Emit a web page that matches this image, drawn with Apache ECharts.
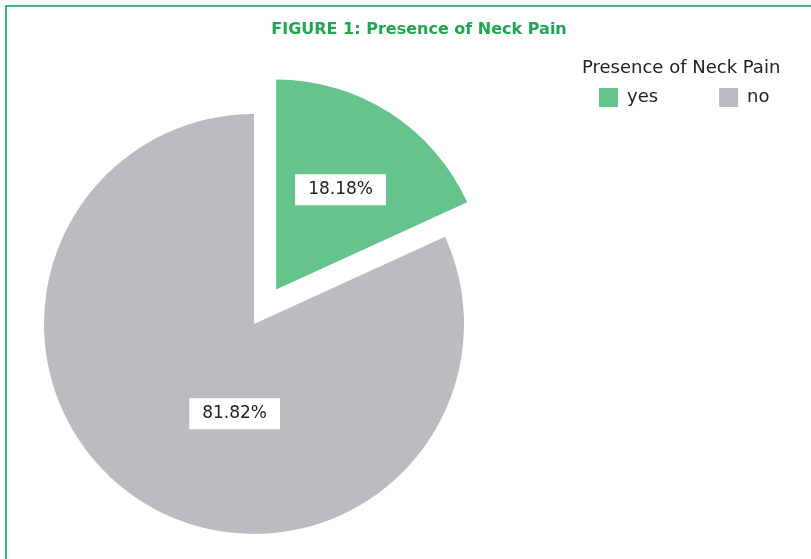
<!DOCTYPE html>
<html>
<head>
<meta charset="utf-8">
<script src="https://cdn.jsdelivr.net/npm/echarts@6/dist/echarts.min.js"></script>
<style>
html,body{margin:0;padding:0;background:#fff;}
#chart{width:811px;height:559px;}
</style>
</head>
<body>
<div id="chart"></div>
<script>
const categories = ['yes', 'no'];
const values = [18.18, 81.82];
const sliceColors = ['#64c48c', '#bbbcc0'];

const chart = echarts.init(document.getElementById('chart'), null, {renderer: 'canvas'});
const labelShift = [[6, -9], [39, -1]];

chart.setOption({
  animation: false,
  title: [
    {
      text: 'FIGURE 1: Presence of Neck Pain',
      left: 414, top: 17, textAlign: 'center',
      textStyle: {color: '#1ea650', fontSize: 16, fontWeight: 'bold', fontFamily: 'DejaVu Sans'}
    },
    {
      text: 'Presence of Neck Pain',
      left: 577, top: 54,
      textStyle: {color: '#222', fontSize: 18, fontWeight: 'normal', fontFamily: 'DejaVu Sans'}
    }
  ],
  legend: {
    data: categories,
    left: 594, top: 83,
    orient: 'horizontal',
    icon: 'rect',
    itemWidth: 19, itemHeight: 19,
    itemGap: 61,
    selectedMode: false,
    textStyle: {color: '#222', fontSize: 18, fontFamily: 'DejaVu Sans', padding: [3, 0, 0, 4]}
  },
  graphic: [{
    type: 'polyline',
    shape: {points: [[6, 559], [6, 6], [811, 6]]},
    style: {stroke: '#12a04a', lineWidth: 1.6, fill: null},
    silent: true
  }],
  series: [{
    type: 'pie',
    center: [254, 324],
    radius: 210,
    startAngle: 90,
    clockwise: true,
    selectedMode: 'single',
    selectedOffset: 41,
    avoidLabelOverlap: false,
    emphasis: {disabled: true},
    label: {
      show: true,
      position: 'inside',
      formatter: p => p.value.toFixed(2) + '%',
      color: '#222',
      fontSize: 17,
      fontFamily: 'DejaVu Sans',
      backgroundColor: '#fff',
      padding: [7, 13]
    },
    labelLine: {show: false},
    labelLayout: p => ({dx: labelShift[p.dataIndex][0], dy: labelShift[p.dataIndex][1]}),
    data: categories.map((c, i) => ({
      name: c, value: values[i],
      selected: i === 0,
      itemStyle: {color: sliceColors[i]}
    }))
  }]
});
</script>
</body>
</html>
